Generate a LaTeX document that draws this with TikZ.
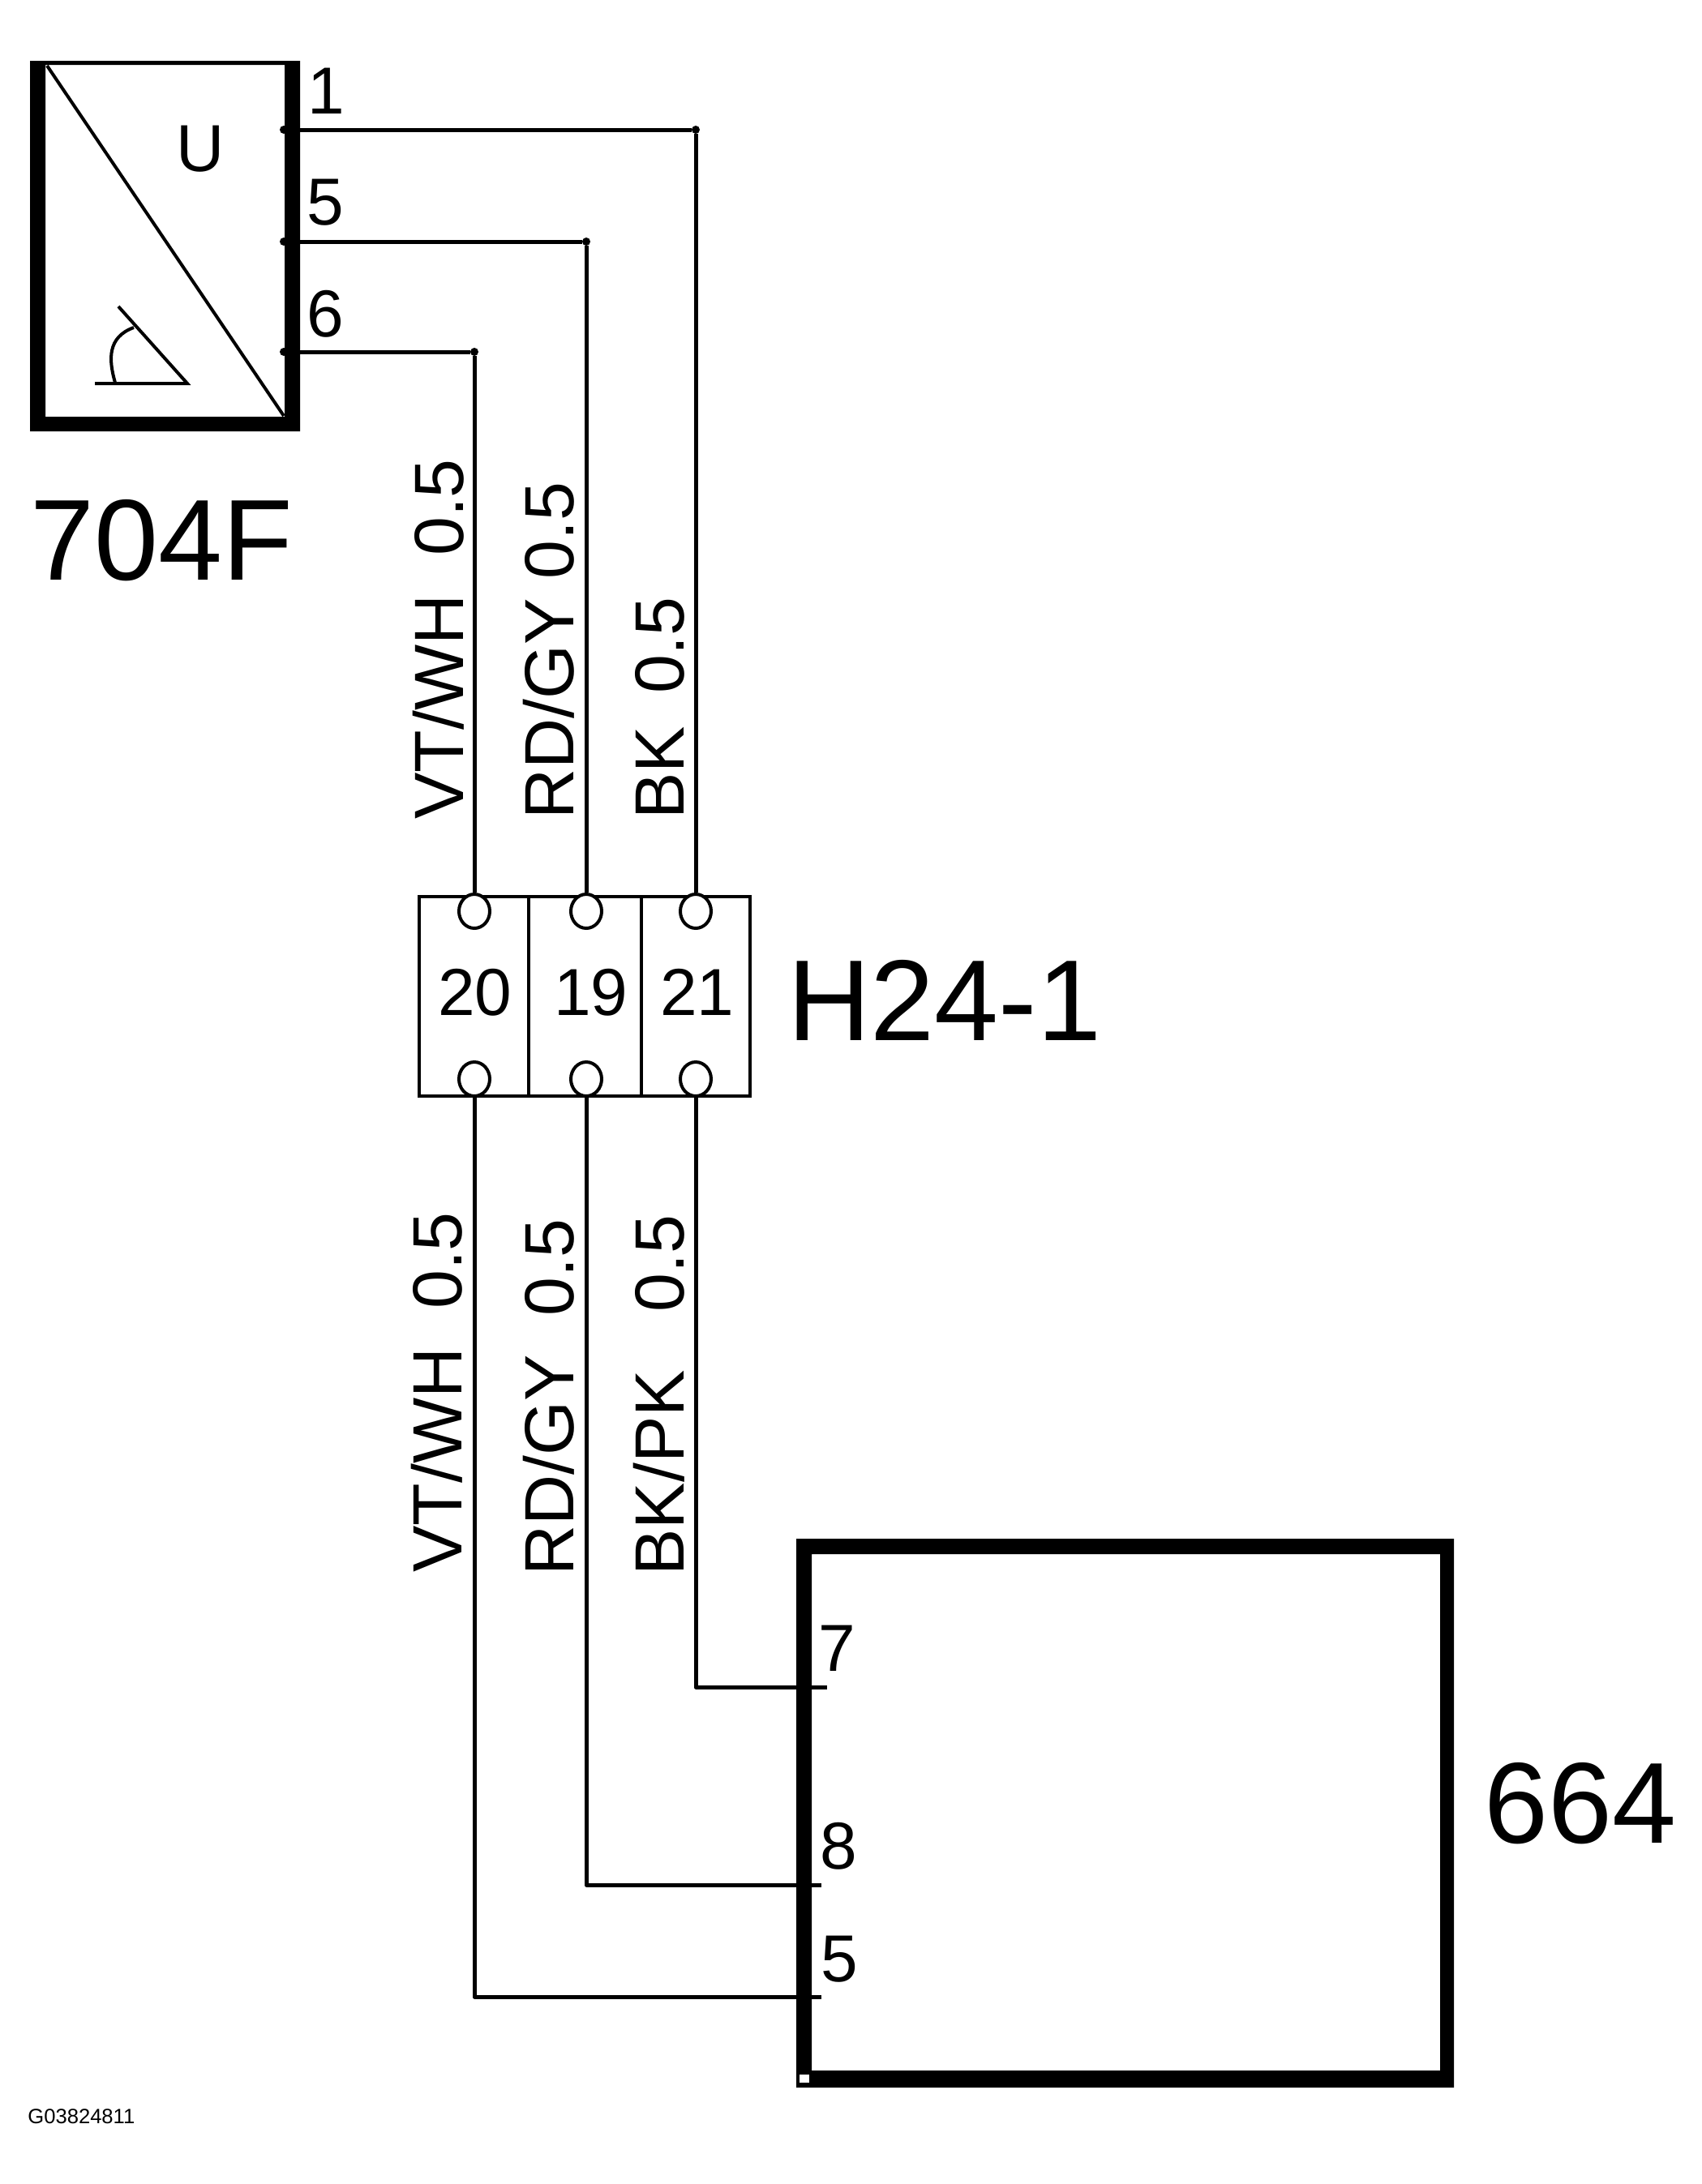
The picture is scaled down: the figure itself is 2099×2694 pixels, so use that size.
\documentclass[tikz,border=0pt]{standalone}
\usepackage{fontspec}
\setmainfont{Liberation Sans}
\usetikzlibrary{positioning, calc, shapes.geometric}
\newcommand{\fsbig}{\fontsize{71pt}{71pt}\selectfont}
\newcommand{\fspin}{\fontsize{41pt}{41pt}\selectfont}
\newcommand{\fswire}{\fontsize{43pt}{43pt}\selectfont}
\newcommand{\fstag}{\fontsize{12.8pt}{12.8pt}\selectfont}
\tikzset{
	wire/.style={line width=2.5pt, line join=round},
	dot/.style={circle, fill=black, inner sep=0pt, minimum size=5pt},
	contact/.style={ellipse, draw, line width=2pt, fill=white, inner sep=0pt, minimum width=19pt, minimum height=21pt},
	cell/.style={rectangle, draw, line width=2.25pt, inner sep=0pt, minimum height=123pt},
	block/.style={rectangle, inner sep=0pt, outer sep=0pt},
	biglabel/.style={font=\fsbig, anchor=base west, inner sep=0pt},
	pinlabel/.style={font=\fspin, anchor=base, inner sep=0pt},
	wirelabel/.style={font=\fswire, rotate=90, anchor=base west, inner sep=0pt},
}
\begin{document}
\begin{tikzpicture}[x=0.5pt, y=-0.5pt]
	\useasboundingbox (0, 0) rectangle (2099, 2694);

	% sensor
	\node[block, minimum width=166.5pt, minimum height=228.5pt] (sens) at (203.5, 303.5) {};
	\fill[even odd rule] (sens.north west) rectangle (sens.south east) (56, 80) rectangle (351, 514);
	\draw[line width=2pt] (58, 81) -- (350, 513);
	\draw[line width=2pt] (117, 473) -- (231, 473) -- (146, 378);
	\draw[line width=2pt] (165, 404) .. controls (132, 416) and (134, 444) .. (142, 472);
	\node[pinlabel] (sensU) at (247, 211) {U};
	\node[biglabel] (sensName) at (37, 715) {704F};

	\node[dot] (s1) at (350, 160) {};
	\node[dot] (s5) at (350, 298) {};
	\node[dot] (s6) at (350, 434) {};
	\node[dot] (c1) at (858, 160) {};
	\node[dot] (c5) at (723, 298) {};
	\node[dot] (c6) at (585, 434) {};
	\node[pinlabel] (pin1) at (402, 140) {1};
	\node[pinlabel] (pin5) at (401, 277) {5};
	\node[pinlabel] (pin6) at (401, 415) {6};

	% connector
	\node[cell, minimum width=67.5pt] (cellA) at (584.5, 1229) {};
	\node[cell, minimum width=69.5pt] (cellB) at (721.5, 1229) {};
	\node[cell, minimum width=67pt] (cellC) at (858, 1229) {};
	\node[pinlabel] (numA) at (586, 1252) {20};
	\node[pinlabel] (numB) at (729, 1252) {19};
	\node[pinlabel] (numC) at (860, 1252) {21};
	\node[biglabel] (connName) at (971, 1283) {H24-1};
	\foreach \n/\x in {A/585, B/723, C/858} {
		\node[contact] (top\n) at (\x, 1124) {};
		\node[contact] (bot\n) at (\x, 1331) {};
	}

	% control module
	\node[block, minimum width=405.5pt, minimum height=338.5pt] (ecu) at (1387.5, 2236.5) {};
	\fill[even odd rule] (ecu.north west) rectangle (ecu.south east) (1001, 1917) rectangle (1776, 2554);
	\fill[white] (986, 2559) rectangle (998, 2569);
	\node[biglabel] (ecuName) at (1830, 2273) {664};
	\coordinate (m7) at (1020, 2081);
	\coordinate (m8) at (1013, 2325);
	\coordinate (m5) at (1013, 2463);
	\node[pinlabel] (pin7) at (1032, 2061) {7};
	\node[pinlabel] (pin8) at (1034, 2305) {8};
	\node[pinlabel] (pin5b) at (1035, 2444) {5};

	% wires
	\draw[wire] (s1) -- (c1) -- (topC);
	\draw[wire] (s5) -- (c5) -- (topB);
	\draw[wire] (s6) -- (c6) -- (topA);
	\draw[wire] (botC) |- (m7);
	\draw[wire] (botB) |- (m8);
	\draw[wire] (botA) |- (m5);

	% wire labels
	\node[wirelabel] (lblA) at (571, 1011) {VT/WH\ \ 0.5};
	\node[wirelabel] (lblB) at (707, 1011) {RD/GY 0.5};
	\node[wirelabel] (lblC) at (843, 1011) {BK\hspace{20pt}0.5};
	\node[wirelabel] (lblD) at (569, 1940) {VT/WH\ \ 0.5};
	\node[wirelabel] (lblE) at (707, 1944) {RD/GY\ \ 0.5};
	\node[wirelabel] (lblF) at (843, 1944) {BK/PK\hspace{36pt}0.5};

	\node[font=\fstag, anchor=base west, inner sep=0pt] (tag) at (34, 2619) {G03824811};
\end{tikzpicture}
\end{document}
